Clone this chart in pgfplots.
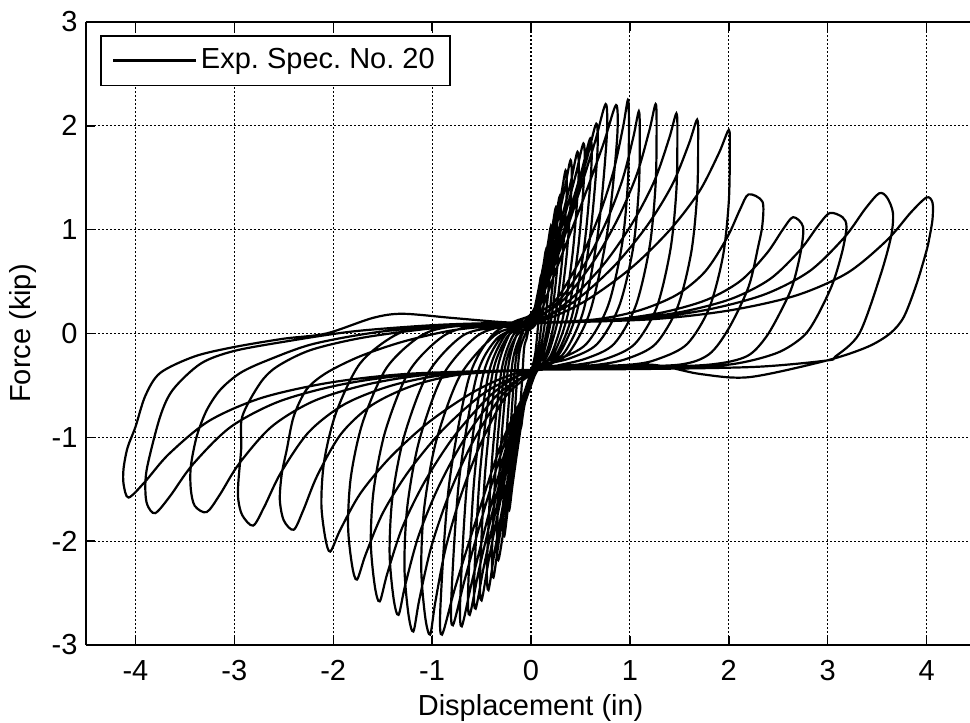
\documentclass[border=0pt]{standalone}
\usepackage{fontspec}
\setmainfont{Liberation Sans}
\usepackage{pgfplots}
\pgfplotsset{compat=1.18}
\begin{document}
\frenchspacing
\fontsize{14.5pt}{17pt}\selectfont
\begin{tikzpicture}
\begin{axis}[
 name=ax,
 scale only axis, width=442pt, height=311.5pt,
 xmin=-4.5, xmax=4.439, ymin=-3, ymax=3,
 axis x line*=box, axis y line*=left,
 axis line style={-, line width=0.9pt},
 xtick={-4,-3,-2,-1,0,1,2,3,4}, xticklabels={-4,-3,-2,-1,0,1,2,3,4},
 ytick={-3,-2,-1,0,1,2,3}, yticklabels={-3,-2,-1,0,1,2,3},
 xtick pos=both, ytick pos=left,
 tick align=inside, major tick length=4.5pt,
 tick style={black, line width=0.7pt},
 xticklabel shift=2.7pt, yticklabel shift=-0.8pt,
 grid=major, major grid style={black, line width=0.55pt, dash pattern=on 1pt off 1pt},
 xlabel={Displacement (in)}, ylabel={Force (kip)},
 every axis x label/.style={at={(axis description cs:0.503,-0.101)}, anchor=center},
 every axis y label/.style={at={(axis description cs:-0.0718,0.5)}, anchor=center, rotate=90},
 legend style={at={(axis description cs:0,1)}, anchor=north west, xshift=7pt, yshift=-6.5pt,
   draw=black, line width=0.8pt, fill=white, inner xsep=5.75pt, inner ysep=4.5pt,
   nodes={inner xsep=1.75pt, inner ysep=1.75pt}},
 legend cell align=left,
 legend image code/.code={\draw[#1] (0pt,0pt) -- (41.5pt,0pt);},
]
\addplot[black, line width=1.1pt, smooth, tension=0.5] coordinates {
(0,0.08)(0.03,0.21)(0.06,0.35)(0.085,0.47)(0.10,0.55)
(0.11,0.47)(0.09,0.25)(0.07,0.06)(0.045,-0.18)(0.02,-0.30)(0.01,-0.33)
(-0.03,-0.49)(-0.06,-0.65)(-0.085,-0.80)(-0.10,-0.90)
(-0.115,-0.81)(-0.09,-0.45)(-0.07,-0.14)(-0.045,-0.05)(-0.02,0.06)
(0.01,0.12)(0.045,0.275)(0.09,0.485)(0.128,0.674)(0.15,0.80)
(0.16,0.68)(0.135,0.36)(0.105,0.08)(0.068,-0.18)(0.035,-0.30)(0.02,-0.36)
(-0.051,-0.59)(-0.102,-0.87)(-0.145,-1.13)(-0.17,-1.30)
(-0.185,-1.17)(-0.156,-0.65)(-0.119,-0.195)(-0.077,-0.05)(-0.034,0.04)
(0,0.05)(0.06,0.33)(0.12,0.61)(0.17,0.86)(0.20,1.03)
(0.21,0.88)(0.18,0.46)(0.14,0.10)(0.09,-0.18)(0.05,-0.30)(0.03,-0.34)
(-0.066,-0.69)(-0.132,-1.09)(-0.187,-1.46)(-0.22,-1.70)
(-0.235,-1.53)(-0.202,-0.85)(-0.154,-0.255)(-0.099,-0.03)(-0.044,0.09)
(0.02,0.15)(0.075,0.38)(0.15,0.71)(0.2125,1.01)(0.25,1.21)
(0.26,1.03)(0.225,0.54)(0.175,0.12)(0.1125,-0.18)(0.05,-0.32)(0.01,-0.38)
(-0.081,-0.75)(-0.162,-1.23)(-0.23,-1.66)(-0.27,-1.95)
(-0.285,-1.76)(-0.248,-0.98)(-0.189,-0.29)(-0.12,-0.05)(-0.054,0.06)
(0.01,0.10)(0.087,0.405)(0.174,0.77)(0.247,1.10)(0.29,1.32)
(0.30,1.12)(0.261,0.59)(0.203,0.13)(0.13,-0.18)(0.07,-0.30)(0.04,-0.35)
(-0.099,-0.81)(-0.198,-1.36)(-0.28,-1.91)(-0.33,-2.18)
(-0.345,-1.96)(-0.304,-1.09)(-0.231,-0.33)(-0.149,-0.02)(-0.066,0.12)
(0.03,0.18)(0.105,0.47)(0.21,0.91)(0.30,1.31)(0.35,1.57)
(0.36,1.33)(0.315,0.71)(0.245,0.16)(0.158,-0.18)(0.07,-0.29)(0.02,-0.32)
(-0.114,-0.85)(-0.228,-1.45)(-0.323,-1.99)(-0.38,-2.35)
(-0.395,-2.12)(-0.35,-1.18)(-0.266,-0.35)(-0.171,-0.06)(-0.076,0.04)
(0,0.07)(0.12,0.49)(0.24,0.96)(0.34,1.39)(0.40,1.67)
(0.41,1.42)(0.36,0.75)(0.28,0.17)(0.18,-0.18)(0.09,-0.32)(0.05,-0.37)
(-0.129,-0.88)(-0.258,-1.52)(-0.366,-2.09)(-0.43,-2.47)
(-0.445,-2.22)(-0.396,-1.24)(-0.301,-0.37)(-0.194,-0.04)(-0.086,0.08)
(0.02,0.13)(0.141,0.51)(0.282,1.01)(0.40,1.45)(0.47,1.75)
(0.48,1.49)(0.423,0.79)(0.329,0.18)(0.21,-0.19)(0.094,-0.34)(0.03,-0.40)
(-0.15,-0.91)(-0.30,-1.57)(-0.425,-2.17)(-0.50,-2.57)
(-0.515,-2.31)(-0.46,-1.29)(-0.35,-0.39)(-0.225,-0.02)(-0.10,0.13)
(0.01,0.20)(0.159,0.53)(0.318,1.05)(0.45,1.52)(0.53,1.83)
(0.54,1.56)(0.477,0.82)(0.371,0.18)(0.239,-0.18)(0.11,-0.30)(0.06,-0.35)
(-0.168,-0.93)(-0.336,-1.62)(-0.476,-2.24)(-0.56,-2.65)
(-0.575,-2.39)(-0.515,-1.33)(-0.392,-0.40)(-0.252,-0.05)(-0.112,0.06)
(0.03,0.10)(0.18,0.545)(0.36,1.08)(0.51,1.56)(0.60,1.88)
(0.61,1.60)(0.54,0.85)(0.42,0.19)(0.27,-0.18)(0.12,-0.29)(0.02,-0.33)
(-0.186,-0.94)(-0.372,-1.65)(-0.527,-2.28)(-0.62,-2.71)
(-0.635,-2.44)(-0.57,-1.36)(-0.434,-0.41)(-0.279,-0.04)(-0.124,0.10)
(0.02,0.16)(0.198,0.58)(0.396,1.16)(0.561,1.67)(0.66,2.02)
(0.67,1.72)(0.594,0.91)(0.462,0.20)(0.297,-0.18)(0.14,-0.32)(0.05,-0.38)
(-0.21,-0.97)(-0.42,-1.71)(-0.595,-2.38)(-0.70,-2.82)
(-0.715,-2.54)(-0.644,-1.41)(-0.49,-0.42)(-0.315,-0.05)(-0.14,0.07)
(0,0.12)(0.227,0.63)(0.453,1.26)(0.642,1.83)(0.755,2.21)
(0.765,1.88)(0.68,0.99)(0.53,0.22)(0.34,-0.18)(0.15,-0.31)(0.04,-0.36)
(-0.237,-0.97)(-0.474,-1.70)(-0.67,-2.37)(-0.79,-2.81)
(-0.805,-2.53)(-0.727,-1.41)(-0.553,-0.42)(-0.356,-0.06)(-0.158,0.04)
(0.04,0.08)(0.258,0.625)(0.516,1.26)(0.73,1.82)(0.86,2.20)
(0.87,1.87)(0.774,0.99)(0.60,0.22)(0.387,-0.18)(0.18,-0.30)(0.07,-0.34)
(-0.27,-0.99)(-0.54,-1.75)(-0.765,-2.44)(-0.90,-2.90)
(-0.915,-2.61)(-0.828,-1.45)(-0.63,-0.435)(-0.405,-0.03)(-0.18,0.11)
(0.02,0.18)(0.245,0.315)(0.49,0.70)(0.686,1.13)(0.833,1.56)(0.931,1.99)(0.98,2.25)
(0.99,2.03)(0.98,1.46)(0.92,0.855)(0.78,0.27)(0.56,-0.10)(0.28,-0.25)(0.12,-0.32)(0.03,-0.37)
(-0.255,-0.605)(-0.51,-1.064)(-0.714,-1.574)(-0.867,-2.084)(-0.969,-2.594)(-1.02,-2.90)
(-1.07,-2.73)(-1.11,-2.26)(-1.08,-1.68)(-0.96,-1.04)(-0.72,-0.41)(-0.37,-0.02)(-0.12,0.07)
(0,0.1)(0.2725,0.304)(0.545,0.671)(0.763,1.079)(0.9265,1.487)(1.0355,1.895)(1.09,2.14)
(1.10,1.93)(1.09,1.39)(1.03,0.81)(0.89,0.26)(0.67,-0.10)(0.39,-0.24)(0.12,-0.30)(0.01,-0.35)
(-0.2975,-0.602)(-0.595,-1.056)(-0.833,-1.56)(-1.0115,-2.064)(-1.1305,-2.568)(-1.19,-2.87)
(-1.24,-2.70)(-1.28,-2.24)(-1.25,-1.66)(-1.13,-1.03)(-0.89,-0.40)(-0.54,-0.02)(-0.19,0.09)
(0.01,0.14)(0.315,0.311)(0.63,0.691)(0.882,1.113)(1.071,1.535)(1.197,1.957)(1.26,2.21)
(1.27,1.99)(1.26,1.44)(1.20,0.84)(1.06,0.27)(0.84,-0.10)(0.56,-0.24)(0.26,-0.31)(0.04,-0.36)
(-0.335,-0.586)(-0.67,-1.011)(-0.938,-1.483)(-1.139,-1.955)(-1.273,-2.427)(-1.34,-2.71)
(-1.39,-2.55)(-1.43,-2.11)(-1.40,-1.57)(-1.28,-0.98)(-1.04,-0.38)(-0.69,-0.02)(-0.34,0.06)
(0,0.08)(0.3675,0.302)(0.735,0.666)(1.029,1.07)(1.2495,1.474)(1.3965,1.878)(1.47,2.12)
(1.48,1.91)(1.47,1.38)(1.41,0.81)(1.27,0.25)(1.05,-0.10)(0.77,-0.24)(0.47,-0.30)(0.02,-0.34)
(-0.3825,-0.573)(-0.765,-0.974)(-1.071,-1.42)(-1.3005,-1.866)(-1.4535,-2.312)(-1.53,-2.58)
(-1.58,-2.43)(-1.62,-2.01)(-1.59,-1.50)(-1.47,-0.93)(-1.23,-0.36)(-0.88,-0.02)(-0.53,0.08)
(0.01,0.12)(0.42,0.296)(0.84,0.649)(1.176,1.041)(1.428,1.433)(1.596,1.825)(1.68,2.06)
(1.69,1.85)(1.68,1.34)(1.62,0.78)(1.48,0.25)(1.26,-0.10)(0.98,-0.24)(0.68,-0.30)(0.03,-0.36)
(-0.44,-0.552)(-0.88,-0.916)(-1.232,-1.32)(-1.496,-1.724)(-1.672,-2.128)(-1.76,-2.37)
(-1.81,-2.23)(-1.85,-1.85)(-1.82,-1.37)(-1.70,-0.85)(-1.46,-0.33)(-1.11,-0.02)(-0.76,0.07)
(0,0.1)(0.5,0.286)(1.0,0.621)(1.4,0.993)(1.7,1.365)(1.9,1.737)(2.0,1.96)
(2.01,1.76)(2.00,1.27)(1.94,0.74)(1.80,0.24)(1.58,-0.10)(1.30,-0.24)(1.00,-0.30)(0.01,-0.35)
(-0.5075,-0.525)(-1.015,-0.84)(-1.421,-1.19)(-1.7255,-1.54)(-1.9285,-1.89)(-2.03,-2.10)
(-2.08,-1.97)(-2.12,-1.64)(-2.09,-1.22)(-1.97,-0.76)(-1.73,-0.29)(-1.38,-0.02)(-1.03,0.07)
(0,0.1)(0.66,0.137)(1.1,0.224)(1.474,0.373)(1.76,0.596)(1.98,0.918)(2.112,1.191)(2.2,1.34)
(2.34,1.27)(2.34,1.05)(2.30,0.85)(2.20,0.45)(2.00,0.05)(1.80,-0.20)(1.5,-0.30)(0.8,-0.32)(0.01,-0.35)
(-0.72,-0.396)(-1.2,-0.504)(-1.608,-0.689)(-1.92,-0.966)(-2.16,-1.366)(-2.304,-1.705)(-2.40,-1.89)
(-2.50,-1.80)(-2.54,-1.60)(-2.52,-1.35)(-2.47,-1.12)(-2.40,-0.80)(-2.27,-0.54)(-2.07,-0.38)(-1.73,-0.22)(-1.3,-0.08)(-0.8,0.03)(-0.3,0.08)
(0,0.1)(0.795,0.131)(1.325,0.202)(1.776,0.324)(2.12,0.508)(2.385,0.773)(2.544,0.998)(2.65,1.12)
(2.75,1.03)(2.73,0.80)(2.65,0.48)(2.55,0.26)(2.38,-0.03)(2.18,-0.22)(1.8,-0.30)(1.0,-0.33)(0.01,-0.35)
(-0.843,-0.395)(-1.405,-0.50)(-1.883,-0.68)(-2.248,-0.95)(-2.529,-1.34)(-2.698,-1.67)(-2.81,-1.85)
(-2.92,-1.75)(-2.96,-1.60)(-2.96,-1.44)(-2.93,-1.10)(-2.92,-0.80)(-2.74,-0.48)(-2.57,-0.32)(-2.23,-0.16)(-1.7,-0.04)(-1.0,0.05)(-0.4,0.09)
(0,0.1)(0.906,0.132)(1.51,0.206)(2.023,0.333)(2.416,0.524)(2.718,0.80)(2.899,1.033)(3.02,1.16)
(3.15,1.12)(3.19,1.03)(3.15,0.80)(3.05,0.48)(2.89,0.16)(2.75,-0.03)(2.48,-0.19)(2.0,-0.30)(1.2,-0.34)(0.01,-0.35)
(-0.984,-0.391)(-1.64,-0.487)(-2.198,-0.651)(-2.624,-0.898)(-2.952,-1.254)(-3.149,-1.556)(-3.28,-1.72)
(-3.40,-1.66)(-3.44,-1.50)(-3.44,-1.28)(-3.38,-0.99)(-3.28,-0.74)(-3.14,-0.54)(-2.94,-0.38)(-2.67,-0.26)(-2.2,-0.10)(-1.5,0.02)(-0.7,0.08)
(0,0.1)(1.056,0.138)(1.76,0.225)(2.358,0.375)(2.816,0.60)(3.168,0.925)(3.379,1.20)(3.52,1.35)
(3.60,1.31)(3.66,1.16)(3.64,0.93)(3.53,0.55)(3.32,0.0)(3.08,-0.22)(2.99,-0.26)(2.3,-0.32)(1.3,-0.34)(0.01,-0.35)
(-1.14,-0.391)(-1.90,-0.488)(-2.546,-0.654)(-3.04,-0.902)(-3.42,-1.261)(-3.648,-1.564)(-3.80,-1.73)
(-3.88,-1.65)(-3.90,-1.50)(-3.88,-1.28)(-3.75,-0.80)(-3.62,-0.54)(-3.34,-0.29)(-3.01,-0.17)(-2.5,-0.08)(-1.8,0.02)(-1.0,0.08)(-0.4,0.1)
(0,0.1)(1.2,0.136)(2.0,0.221)(2.68,0.366)(3.2,0.584)(3.6,0.899)(3.84,1.165)(4.0,1.31)
(4.06,1.26)(4.06,1.10)(4.03,0.93)(4.0,0.80)(3.90,0.48)(3.77,0.16)(3.63,0.0)(3.40,-0.13)(2.99,-0.26)(2.21,-0.42)(1.71,-0.39)(1.21,-0.30)(0.5,-0.33)(0.01,-0.35)
(-1.221,-0.387)(-2.035,-0.473)(-2.727,-0.621)(-3.256,-0.842)(-3.663,-1.162)(-3.907,-1.432)(-4.07,-1.58)
(-4.12,-1.45)(-4.12,-1.30)(-4.08,-1.1)(-4.0,-0.9)(-3.9,-0.6)(-3.75,-0.38)(-3.4,-0.22)(-3.0,-0.13)(-2.5,-0.05)(-2.07,0.0)(-1.6,0.15)(-1.3,0.19)(-0.8,0.15)(-0.3,0.11)(0,0.1)
};
\addlegendentry{Exp. Spec. No. 20}
\end{axis}
\pgfresetboundingbox
\path[use as bounding box] ([xshift=-43pt, yshift=-39pt]ax.south west) rectangle ([yshift=11pt]ax.north east);
\end{tikzpicture}
\end{document}
